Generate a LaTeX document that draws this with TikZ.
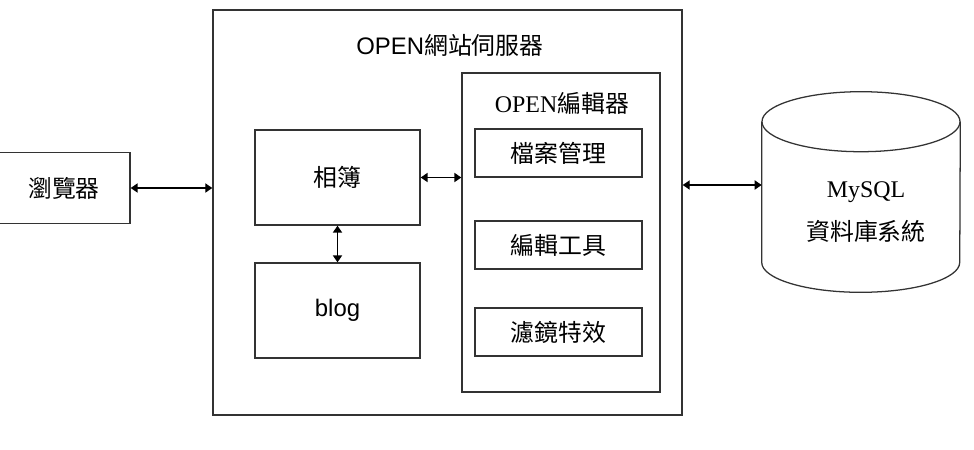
\documentclass[tikz,border=0pt]{standalone}
\usepackage{fontspec}
\setmainfont{Liberation Serif}
\setsansfont{Liberation Sans}
\newfontfamily\cjk{Noto Sans CJK TC}
\usetikzlibrary{arrows.meta,positioning,shapes.geometric}

\begin{document}
\begin{tikzpicture}[x=0.025cm, y=-0.025cm,
  box/.style={draw=black!80, line width=0.9pt, inner sep=0pt},
  pane/.style={box, minimum width=4.125cm, minimum height=2.375cm,
               font=\fontsize{17}{20}\selectfont},
  tool/.style={box, minimum width=4.175cm, minimum height=1.2cm,
               font=\cjk\fontsize{17}{20}\selectfont},
  title/.style={inner sep=0pt, font=\fontsize{17}{20}\selectfont},
  cyl/.style={draw=black!80, line width=0.9pt},
  link/.style={{Triangle[length=5pt,width=6.5pt]}-{Triangle[length=5pt,width=6.5pt]},
               line width=1pt},
]
\useasboundingbox (0,0) rectangle (974,449);

% 瀏覽器
\node[box, minimum width=3.3cm, minimum height=1.78cm,
      font=\cjk\fontsize{17}{20}\selectfont] (browser) at (64,188) {瀏覽器};

% 伺服器外框
\node[box, minimum width=11.725cm, minimum height=10.125cm] (server) at (447.5,212.5) {};
\node[title, font=\sffamily\fontsize{17}{20}\selectfont] (srvtitle) at (450,45) {OPEN{\cjk 網站伺服器}};

% 相簿 / blog
\node[pane, font=\cjk\fontsize{17}{20}\selectfont] (album) at (337.5,177.5) {相簿};
\node[pane, font=\sffamily\fontsize{17}{20}\selectfont] (blog) at (337.5,310.5) {blog};

% 編輯器
\node[box, minimum width=4.95cm, minimum height=7.975cm] (editor) at (561,232.5) {};
\node[title] (edtitle) at (562,103) {OPEN{\cjk 編輯器}};
\node[tool] (files) at (558.5,153) {檔案管理};
\node[tool] (tools) at (558.5,245) {編輯工具};
\node[tool] (filters) at (558.5,332) {濾鏡特效};

% 資料庫
\node[inner sep=0pt, minimum width=4.95cm, minimum height=3.5cm] (db) at (861,192) {};
\draw[cyl] (db.north west) -- (db.south west)
  arc[start angle=180, end angle=360, x radius=2.475cm, y radius=0.75cm]
  -- (db.north east);
\draw[cyl] (db.north) ellipse[x radius=2.475cm, y radius=0.75cm];
\node[title, align=center] (dbtext) at (866,212) {MySQL\\[10pt]{\cjk 資料庫系統}};

% 連線
\draw[link] (browser.east) -- (browser.east -| server.west);
\draw[link] (album.east) -- (album.east -| editor.west);
\draw[link] (album.south) -- (blog.north);
\draw[link] (server.east |- 0,185) -- (db.west |- 0,185);

\end{tikzpicture}
\end{document}
